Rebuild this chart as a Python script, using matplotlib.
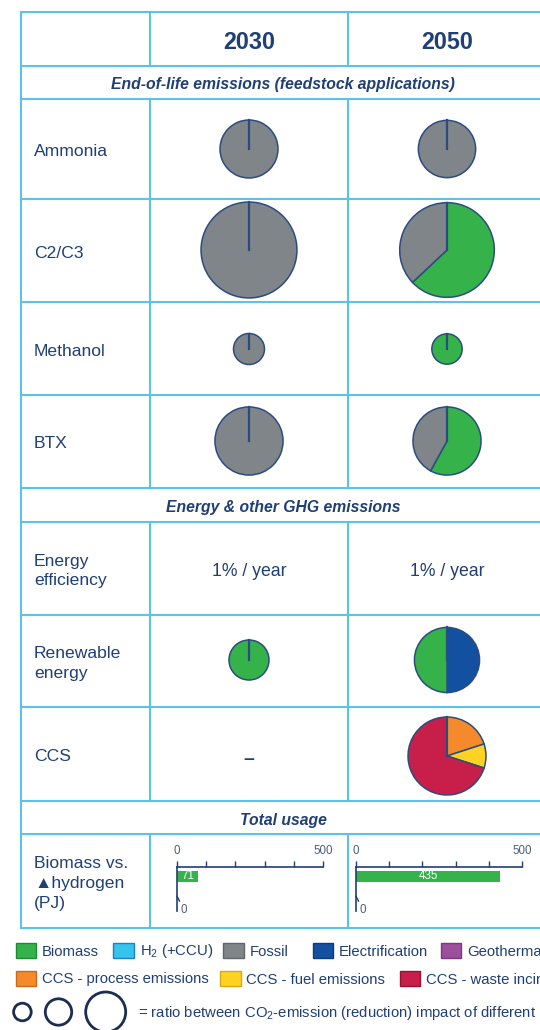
import matplotlib.pyplot as plt
from matplotlib.patches import Rectangle, Circle

plt.rcParams['font.family'] = ['Liberation Sans', 'DejaVu Sans']
plt.rcParams['mathtext.fontset'] = 'custom'
plt.rcParams['mathtext.rm'] = 'Liberation Sans'
plt.rcParams['mathtext.default'] = 'regular'

# data
years = ['2030', '2050']

pie_rows = ['Ammonia', 'C2/C3', 'Methanol', 'BTX', 'Renewable\nenergy', 'CCS']
impact_2030 = [8.4, 23.0, 2.4, 11.6, 4.0, 0]
impact_2050 = [8.2, 22.4, 2.3, 11.6, 10.6, 15.2]
src_2030 = [['Fossil'], ['Fossil'], ['Fossil'], ['Fossil'], ['Biomass'], []]
share_2030 = [[1], [1], [1], [1], [1], []]
src_2050 = [['Fossil'], ['Biomass', 'Fossil'], ['Biomass'], ['Biomass', 'Fossil'],
            ['Electrification', 'Biomass'], ['CCS process', 'CCS fuel', 'CCS waste']]
share_2050 = [[1], [0.63, 0.37], [1], [0.58, 0.42], [0.5, 0.5], [0.20, 0.10, 0.70]]

efficiency = ['1% / year', '1% / year']

biomass_pj = [71, 435]
hydrogen_pj = [0, 0]

legend_keys = ['Biomass', 'H2', 'Fossil', 'Electrification', 'Geothermal',
               'CCS process', 'CCS fuel', 'CCS waste']
legend_text = ['Biomass', 'H$_2$ (+CCU)', 'Fossil', 'Electrification', 'Geothermal',
               'CCS - process emissions', 'CCS - fuel emissions', 'CCS - waste incineration']
legend_colors = ['#35b34a', '#35c4ee', '#7f8589', '#1450a0', '#9b4f9d',
                 '#f58a2c', '#ffd223', '#c71f4a']
legend_edges = ['#1f8a35', '#1f7fc0', '#5f6569', '#0c3c80', '#7a3a7c',
                '#c86a1c', '#d8a810', '#9a1035']
color_of = dict(zip(legend_keys, legend_colors))

# styling
navy = '#1f3f75'
edge = '#2c4c80'
grid = '#5bc3e8'
W, H = 540, 1030
dy = 2.5  # matplotlib centres on the descent too, nudge texts down

fig = plt.figure(figsize=(W / 100, H / 100), dpi=100)
ax = fig.add_axes([0, 0, 1, 1])
ax.set_autoscale_on(False)
ax.set_xlim(0, W)
ax.set_ylim(H, 0)

# table grid
row_edges = [12, 66, 99, 199, 302, 395, 488, 522, 615, 707, 801, 834, 928]
section_rows = [1, 6, 10]
x_left, x_c1, x_c2, x_right = 21, 150, 348, 546
for y in row_edges:
    ax.plot([x_left, x_right], [y, y], color=grid, lw=1.5, solid_capstyle='butt')
for x in [x_left, x_right]:
    ax.plot([x, x], [row_edges[0], row_edges[-1]], color=grid, lw=1.5)
for i in range(len(row_edges) - 1):
    if i in section_rows:
        continue
    for x in [x_c1, x_c2]:
        ax.plot([x, x], [row_edges[i], row_edges[i + 1]], color=grid, lw=1.5)

col_x = [249, 447]
label_x = 34

def row_mid(i):
    return (row_edges[i] + row_edges[i + 1]) / 2 + dy

# header
for cx, yr in zip(col_x, years):
    ax.text(cx, 40 + dy, yr, ha='center', va='center', fontsize=16.8,
            fontweight='bold', color=navy)

sections = ['End-of-life emissions (feedstock applications)',
            'Energy & other GHG emissions', 'Total usage']
for i, s in zip(section_rows, sections):
    ax.text(283, row_mid(i), s, ha='center', va='center', fontsize=11.3,
            fontweight='bold', style='italic', color=navy)

# pie rows
pie_row_idx = [2, 3, 4, 5, 8, 9]
pie_y = [149, 250, 349, 441, 660, 756]
for k, name in enumerate(pie_rows):
    ax.text(label_x, row_mid(pie_row_idx[k]), name, ha='left', va='center',
            fontsize=12.6, color=navy, linespacing=1.35)
    for cx, imp, srcs, shares in [(col_x[0], impact_2030[k], src_2030[k], share_2030[k]),
                                  (col_x[1], impact_2050[k], src_2050[k], share_2050[k])]:
        if not shares:
            ax.text(cx, pie_y[k] + 3, '\u2013', ha='center', va='center',
                    fontsize=14, fontweight='bold', color=navy)
            continue
        r = 10 * imp ** 0.5
        ax.pie(shares, colors=[color_of[s] for s in srcs], radius=r,
               center=(cx, pie_y[k]), startangle=-90, counterclock=True,
               wedgeprops=dict(edgecolor=edge, linewidth=1.1), frame=True)
        ax.plot([cx, cx], [pie_y[k], pie_y[k] - r], color=edge, lw=1.6)

# energy efficiency row
ax.text(label_x, row_mid(7), 'Energy\nefficiency', ha='left', va='center',
        fontsize=12.6, color=navy, linespacing=1.35)
for cx, t in zip(col_x, efficiency):
    ax.text(cx, row_mid(7), t, ha='center', va='center', fontsize=12.7, color=navy)

# biomass vs hydrogen row
ax.text(label_x, row_mid(11), 'Biomass vs.\n\u25B2hydrogen\n(PJ)', ha='left',
        va='center', fontsize=12.6, color=navy, linespacing=1.38)

bar_x = [(177, 146), (356, 166)]
y_top, y_bot = 867, 911
for (x0, w), bio, hyd in zip(bar_x, biomass_pj, hydrogen_pj):
    bx = fig.add_axes([x0 / W, 1 - y_bot / H, w / W, (y_bot - y_top) / H])
    bars = bx.barh([0], [bio], height=0.56, color=legend_colors[0])
    bx.barh([1], [hyd], height=0.56, color=legend_colors[1])
    bx.set_xlim(0, 500)
    bx.set_ylim(1.76, -0.48)
    for s in ['right', 'bottom']:
        bx.spines[s].set_visible(False)
    for s in ['top', 'left']:
        bx.spines[s].set_color(navy)
        bx.spines[s].set_linewidth(1.2)
    bx.xaxis.tick_top()
    bx.set_xticks(range(0, 501, 100))
    bx.set_xticklabels(['0', '', '', '', '', '500'])
    bx.tick_params(axis='x', direction='out', length=4, width=1, color=navy,
                   labelsize=8.3, labelcolor='#4a5d7e', pad=3.5)
    bx.set_yticks([])
    bx.patch.set_alpha(0)
    bx.bar_label(bars, label_type='center', color='white', fontsize=8.4)
    bx.annotate(str(hyd), xy=(0, 1), xytext=(7, -14), textcoords='offset pixels',
                ha='center', va='center', fontsize=8.3, color='#4a5d7e',
                annotation_clip=False,
                arrowprops=dict(arrowstyle='-', color=navy, lw=1, shrinkA=0, shrinkB=0))

# legend
leg_rows = [(950, [15.5, 113, 223, 312.7, 440.8]), (978, [15.5, 220, 399.5])]
k = 0
for ly, xs in leg_rows:
    for x in xs:
        ax.add_patch(Rectangle((x, ly - 7.5), 20.5, 15, facecolor=legend_colors[k],
                               edgecolor=legend_edges[k], lw=1))
        ax.text(x + 26.5, ly + 1.5, legend_text[k], ha='left', va='center',
                fontsize=10.7, color=navy)
        k += 1

for cx, r in [(22.4, 8.8), (58.5, 13.2), (105.7, 20)]:
    ax.add_patch(Circle((cx, 1012), r, fill=False, edgecolor='#1b2d50', lw=2))
ax.text(137.7, 1013.5, '= ratio between CO$_2$-emission (reduction) impact of different measures',
        ha='left', va='center', fontsize=10.7, color=navy)

ax.set_xlim(0, W)
ax.set_ylim(H, 0)
ax.axis('off')
fig.savefig('out.png', dpi=100)
